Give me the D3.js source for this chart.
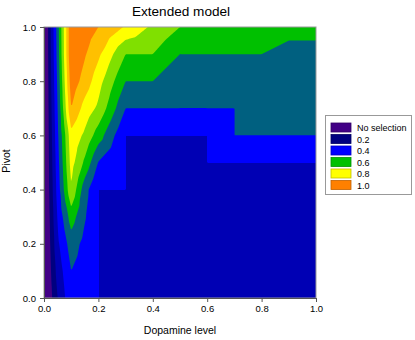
<!DOCTYPE html>
<html><head><meta charset="utf-8">
<script src="https://cdn.jsdelivr.net/npm/d3@7"></script>
<style>
body{margin:0;background:#fff;}
svg{display:block;font-family:"Liberation Sans",Arial,sans-serif;}
</style>
</head><body>
<svg id="chart" width="415" height="340"></svg>
<script>
// ---------- data ----------
const chartTitle = "Extended model";
const xTitle = "Dopamine level";
const yTitle = "Pivot";
const dopamine = [0, 0.05, 0.1, 0.15, 0.2, 0.3, 0.4, 0.5, 0.6, 0.7, 0.8, 0.9, 1.0];
const pivot = [0, 0.1, 0.2, 0.3, 0.4, 0.5, 0.6, 0.7, 0.8, 0.9, 1.0];
// one row per pivot value, one column per dopamine value
const selection = [
  [-0.05, 0.20, 0.38, 0.35, 0.30,  0.30, 0.30, 0.30, 0.30, 0.30, 0.30, 0.30, 0.30], // 0.0
  [-0.05, 0.24, 0.40, 0.36, 0.30,  0.30, 0.30, 0.30, 0.30, 0.30, 0.30, 0.30, 0.30], // 0.1
  [-0.05, 0.28, 0.45, 0.37, 0.30,  0.30, 0.30, 0.30, 0.30, 0.30, 0.30, 0.30, 0.30], // 0.2
  [-0.05, 0.31, 0.55, 0.41, 0.30,  0.30, 0.30, 0.30, 0.30, 0.30, 0.30, 0.30, 0.30], // 0.3
  [-0.05, 0.34, 0.69, 0.44, 0.30,  0.30, 0.30, 0.30, 0.30, 0.30, 0.30, 0.30, 0.30], // 0.4
  [-0.05, 0.36, 0.74, 0.58, 0.395, 0.30, 0.30, 0.30, 0.30, 0.30, 0.30, 0.30, 0.30], // 0.5
  [-0.05, 0.38, 0.77, 0.68, 0.55,  0.30, 0.30, 0.30, 0.30, 0.40, 0.40, 0.40, 0.40], // 0.6
  [-0.05, 0.40, 0.90, 0.76, 0.68,  0.40, 0.40, 0.40, 0.40, 0.40, 0.45, 0.45, 0.45], // 0.7
  [-0.05, 0.42, 0.96, 0.86, 0.74,  0.50, 0.50, 0.40, 0.45, 0.45, 0.45, 0.45, 0.45], // 0.8
  [-0.05, 0.44, 1.00, 0.91, 0.82,  0.60, 0.60, 0.50, 0.50, 0.50, 0.50, 0.45, 0.45], // 0.9
  [-0.05, 0.45, 1.00, 0.95, 0.90,  0.79, 0.68, 0.60, 0.60, 0.60, 0.60, 0.55, 0.55]  // 1.0
];
const levels = [0.1, 0.2, 0.3, 0.4, 0.5, 0.6, 0.7, 0.8, 0.9];
const bandColors = ["#420086", "#000080", "#0000B4", "#0000FF", "#006080",
                    "#00C000", "#80E000", "#FFFF00", "#FFC000", "#FF8000"];
const xTicks = [0, 0.2, 0.4, 0.6, 0.8, 1.0];
const yTicks = [0, 0.2, 0.4, 0.6, 0.8, 1.0];
const legendLabels = ["No selection", "0.2", "0.4", "0.6", "0.8", "1.0"];
const legendColors = ["#420086", "#000080", "#0000FF", "#00C000", "#FFFF00", "#FF8000"];

// ---------- layout ----------
const svg = d3.select("#chart");
const x = d3.scaleLinear().domain([0, 1]).range([44, 316]);
const y = d3.scaleLinear().domain([0, 1]).range([298, 27]);

// surface: each grid cell split into four triangles around its centre
const ix = d3.scaleLinear().domain(dopamine).range(d3.range(dopamine.length));
const iy = d3.scaleLinear().domain(pivot).range(d3.range(pivot.length));
function surface(dx, py) {
  const fx = ix(dx), fy = iy(py);
  const i = Math.min(Math.floor(fx), dopamine.length - 2);
  const j = Math.min(Math.floor(fy), pivot.length - 2);
  const s = fx - i, t = fy - j;
  const a = selection[j][i], b = selection[j][i + 1];
  const e = selection[j + 1][i], d = selection[j + 1][i + 1];
  const c = (a + b + d + e) / 4;
  if (t <= s && t <= 1 - s) return a * (1 - s - t) + b * (s - t) + c * 2 * t;
  if (s >= t && s >= 1 - t) return b * (s - t) + d * (s + t - 1) + c * 2 * (1 - s);
  if (t >= s && t >= 1 - s) return e * (t - s) + d * (s + t - 1) + c * 2 * (1 - t);
  return a * (1 - s - t) + e * (t - s) + c * 2 * s;
}
const nx = 273, ny = 272;
const grid = new Array(nx * ny);
for (let r = 0; r < ny; r++) {
  const py = 1 - r / (ny - 1);
  for (let k = 0; k < nx; k++) grid[r * nx + k] = surface(k / (nx - 1), py);
}
const contours = d3.contours().size([nx, ny])
  .thresholds(levels.map(l => l + 1e-7))(grid);
const clamp = v => Math.max(0, Math.min(1, v));
const path = d3.geoPath(d3.geoTransform({
  point(cx, cy) {
    this.stream.point(x(clamp((cx - 0.5) / (nx - 1))), y(clamp(1 - (cy - 0.5) / (ny - 1))));
  }
}));

const plot = svg.append("g");
plot.append("rect").attr("x", x(0)).attr("y", y(1))
  .attr("width", x(1) - x(0)).attr("height", y(0) - y(1)).attr("fill", bandColors[0]);
plot.selectAll("path.band").data(contours).join("path")
  .attr("class", "band").attr("d", path)
  .attr("fill", (dd, k) => bandColors[k + 1]);

// frame
svg.append("rect").attr("x", x(0)).attr("y", y(1))
  .attr("width", x(1) - x(0)).attr("height", y(0) - y(1))
  .attr("fill", "none").attr("stroke", "#999").attr("stroke-width", 1);

// axes
const fmt = d3.format(".1f");
const gx = svg.append("g").attr("transform", `translate(0,${y(0)})`)
  .call(d3.axisBottom(x).tickValues(xTicks).tickFormat(fmt).tickSize(4).tickPadding(3));
const gy = svg.append("g").attr("transform", `translate(${x(0)},0)`)
  .call(d3.axisLeft(y).tickValues(yTicks).tickFormat(fmt).tickSize(4).tickPadding(4));
[gx, gy].forEach(g => {
  g.selectAll("path").attr("stroke", "#555");
  g.selectAll("line").attr("stroke", "#555");
  g.selectAll("text").attr("font-size", 9.5).attr("fill", "#000")
    .attr("font-family", "Liberation Sans, Arial, sans-serif");
});

svg.append("text").attr("x", 181).attr("y", 16).attr("text-anchor", "middle")
  .attr("font-size", 13.6).text(chartTitle);
svg.append("text").attr("x", 180).attr("y", 334).attr("text-anchor", "middle")
  .attr("font-size", 10.5).text(xTitle);
svg.append("text").attr("transform", "translate(10,161) rotate(-90)")
  .attr("text-anchor", "middle").attr("font-size", 10.5).text(yTitle);

// legend
const lg = svg.append("g");
lg.append("rect").attr("x", 325.5).attr("y", 115.5).attr("width", 86).attr("height", 79)
  .attr("fill", "#fff").attr("stroke", "#999");
const items = lg.selectAll("g.item").data(legendLabels).join("g")
  .attr("class", "item")
  .attr("transform", (dd, k) => `translate(331,${123 + k * 11.5})`);
items.append("rect").attr("width", 20).attr("height", 9)
  .attr("fill", (dd, k) => legendColors[k])
  .attr("stroke", (dd, k) => d3.color(legendColors[k]).darker(0.8)).attr("stroke-width", 0.8);
items.append("text").attr("x", 26).attr("y", 8).attr("font-size", 9).text(dd => dd);
</script>
</body></html>
